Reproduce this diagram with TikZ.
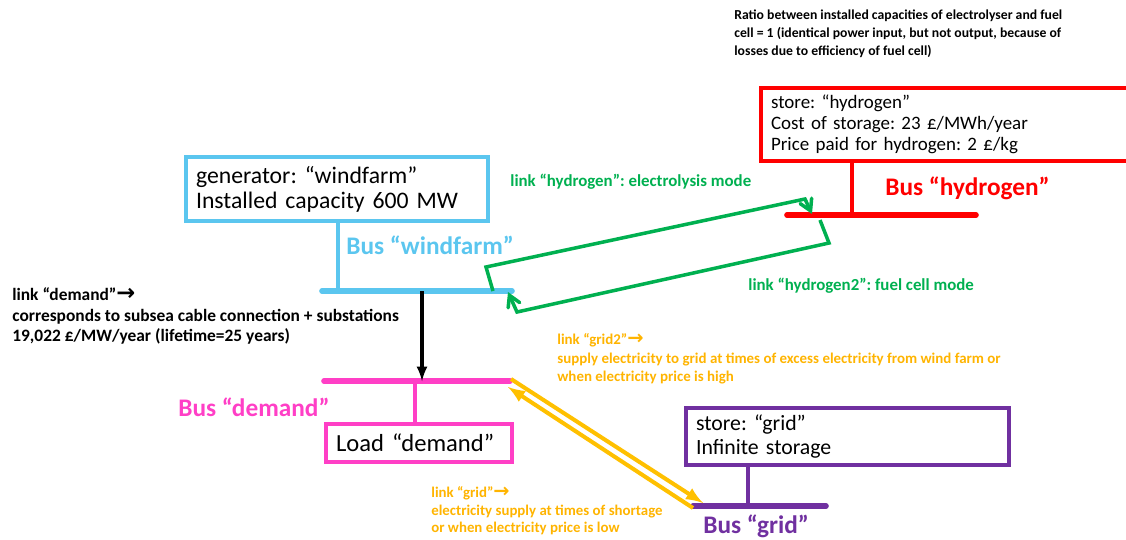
\documentclass[tikz,border=0pt]{standalone}
\usepackage{fontspec}
\setmainfont{Carlito}
\newfontfamily\arrowfont[Scale=1.3]{DejaVu Sans}
\frenchspacing
\usetikzlibrary{calc,positioning,arrows}
\definecolor{wfblue}{HTML}{5BC6EF}
\definecolor{dmpink}{HTML}{FF3FC6}
\definecolor{h2red}{HTML}{FF0000}
\definecolor{h2green}{HTML}{00B050}
\definecolor{gdpurple}{HTML}{7030A0}
\definecolor{gdorange}{HTML}{FFC000}
\definecolor{gdtext}{HTML}{FFB400}
\begin{document}
\begin{tikzpicture}[x=0.02cm,y=-0.02cm,
  box/.style={draw,line width=2.2pt,align=left,inner xsep=0.2cm,inner ysep=0pt,font=\fontsize{13.5}{14.2}\selectfont},
  bus/.style={line width=3.2pt,line cap=round},
  stem/.style={line width=2.2pt},
  busname/.style={anchor=west,inner sep=0pt,font=\bfseries\fontsize{14.4}{16}\selectfont},
  note/.style={anchor=west,inner sep=0pt,align=left,font=\bfseries\fontsize{7.8}{10.2}\selectfont},
  h2link/.style={draw=h2green,line width=2pt,-angle 60},
  gridlink/.style={draw=gdorange,line width=2.3pt,-latex}]
                      \useasboundingbox (0,0) rectangle (1126,539);

                      \node[box,draw=wfblue,minimum width=6.04cm,minimum height=1.28cm,text width=5.64cm] (windfarm) at (337,189) {generator: “windfarm”\\Installed capacity 600 MW};
                      \node[box,draw=h2red,minimum width=7.42cm,minimum height=1.46cm,text width=7.02cm,font=\fontsize{10.8}{11.9}\selectfont] (hydrogen) at (946.5,124.5) {store: “hydrogen”\\Cost of storage: 23 £/MWh/year\\Price paid for hydrogen: 2 £/kg};
                      \node[box,draw=dmpink,minimum width=3.72cm,minimum height=0.76cm,text width=3.32cm,font=\fontsize{14}{16}\selectfont] (load) at (419,443) {Load “demand”};
                      \node[box,draw=gdpurple,minimum width=6.46cm,minimum height=1.14cm,text width=6.06cm,font=\fontsize{12.4}{14.2}\selectfont] (grid) at (847.5,436.5) {store: “grid”\\Infinite storage};

                      \coordinate (wbL) at (322,291); \coordinate (wbR) at (512,291);
                      \coordinate (hbL) at (787,215); \coordinate (hbR) at (976,215);
                      \coordinate (dbL) at (324,381); \coordinate (dbR) at (510,381);
                      \coordinate (gbL) at (693,506); \coordinate (gbR) at (826,506);
                      \coordinate (wbStem) at (338,291);
                      \coordinate (hbStem) at (852,215);
                      \coordinate (dbStem) at (415,381);
                      \coordinate (gbStem) at (748,506);
                      \coordinate (wdOut) at (422,291);

                      \draw[bus,wfblue] (wbL) -- (wbR);
                      \draw[stem,wfblue] (wbStem) -- (wbStem |- windfarm.south);
                      \draw[bus,h2red] (hbL) -- (hbR);
                      \draw[stem,h2red] (hbStem) -- (hbStem |- hydrogen.south);
                      \draw[bus,dmpink] (dbL) -- (dbR);
                      \draw[stem,dmpink] (dbStem) -- (dbStem |- load.north);
                      \draw[bus,gdpurple] (gbL) -- (gbR);
                      \draw[stem,gdpurple] (gbStem) -- (gbStem |- grid.south);

                      \draw[line width=1.8pt,-latex] (wdOut) -- (wdOut |- dbL);
                      \draw[h2link] ([shift={(-19,0)}]wbR) -- ++(-7,-24) -- ++(319,-68) -- ([shift={(25,-1)}]hbL);
                      \draw[h2link] ([shift={(33,5)}]hbL) -- ++(9,23) -- ++(-312,69) -- ([shift={(-4,1)}]wbR);
                      \draw[gridlink] ([shift={(1,-2)}]dbR) -- ([shift={(10,-3)}]gbL);
                      \draw[gridlink] ([shift={(0,2)}]gbL) -- ([shift={(-2,6)}]dbR);

                      \node[busname,text=wfblue] (wbname) at (346,245) {Bus “windfarm”};
                      \node[busname,text=h2red] (hbname) at (885,188) {Bus “hydrogen”};
                      \node[busname,text=dmpink] (dbname) at (178,407) {Bus “demand”};
                      \node[busname,text=gdpurple] (gbname) at (703,526) {Bus “grid”};

                      \node[note] (ratio) at (734,34) {Ratio between installed capacities of electrolyser and fuel\\cell = 1 (identical power input, but not output, because of\\losses due to efficiency of fuel cell)};
                      \node[note,text=h2green,font=\bfseries\fontsize{9.6}{11}\selectfont] (elname) at (510,182) {link “hydrogen”: electrolysis mode};
                      \node[note,text=h2green,font=\bfseries\fontsize{9.6}{11}\selectfont] (fcname) at (748,286) {link “hydrogen2”: fuel cell mode};
                      \node[note,font=\bfseries\fontsize{9.9}{11.6}\selectfont] (dmname) at (12,316) {link “demand”{\arrowfont →}\\corresponds to subsea cable connection + substations\\19,022 £/MW/year (lifetime=25 years)};
                      \node[note,text=gdtext,font=\bfseries\fontsize{8.5}{10.5}\selectfont] (g2name) at (557,359) {link “grid2”{\arrowfont →}\\supply electricity to grid at times of excess electricity from wind farm or\\when electricity price is high};
                      \node[note,text=gdtext,font=\bfseries\fontsize{8.45}{10}\selectfont] (gname) at (431,511) {link “grid”{\arrowfont →}\\electricity supply at times of shortage\\or when electricity price is low};
                    \end{tikzpicture}
\end{document}
